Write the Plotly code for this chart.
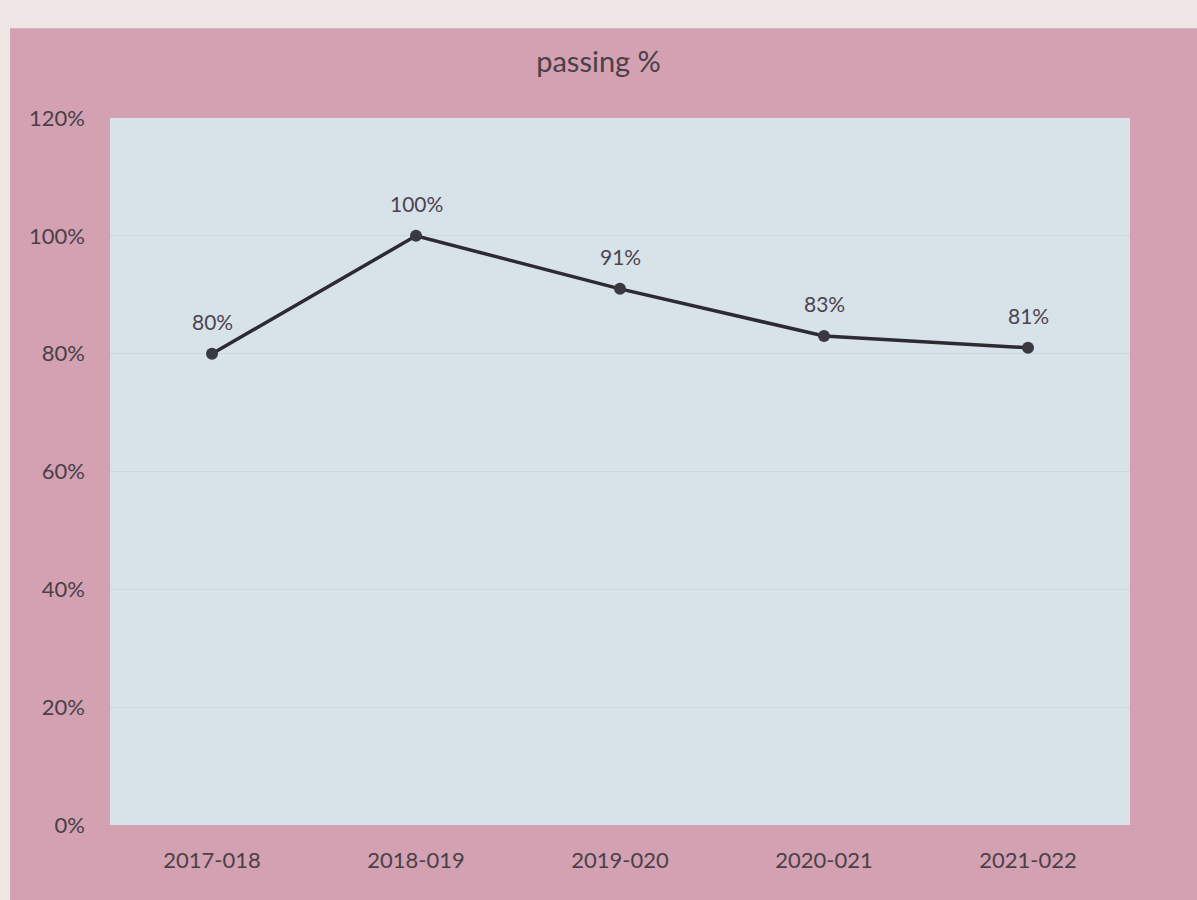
import plotly.graph_objects as go

years = ["2017-018", "2018-019", "2019-020", "2020-021", "2021-022"]
passing = [0.80, 1.00, 0.91, 0.83, 0.81]
labels = ["80%", "100%", "91%", "83%", "81%"]
y_ticks = [0, 0.2, 0.4, 0.6, 0.8, 1.0, 1.2]

FONT = "Lato, Open Sans, sans-serif"

fig = go.Figure()
fig.add_trace(go.Scatter(
    x=years, y=passing, mode="lines+markers",
    line=dict(color="#2c2b31", width=3.5),
    marker=dict(size=12, color="#3a3940"),
    cliponaxis=False,
))
for xv, yv, t in zip(years, passing, labels):
    fig.add_annotation(x=xv, y=yv, text=t, showarrow=False, yshift=32,
                       font=dict(family=FONT, size=21, color="#4a4550"))

fig.update_layout(
    width=1197, height=900,
    margin=dict(l=110, r=67, t=118, b=75),
    paper_bgcolor="#d3a1b2",
    plot_bgcolor="#d8e2e9",
    showlegend=False,
    title=dict(text="passing %", x=0.5, xanchor="center", y=0.931, yanchor="middle",
               font=dict(family=FONT, size=29, color="#4a4048")),
    font=dict(family=FONT, size=22, color="#4a4048"),
    shapes=[
        dict(type="rect", xref="paper", yref="paper", x0=-0.2, x1=1.2, y0=1.127, y1=1.3,
             fillcolor="#eee6e4", line=dict(width=0), layer="below"),
        dict(type="rect", xref="paper", yref="paper", x0=-0.2, x1=-0.098, y0=-0.2, y1=1.3,
             fillcolor="#eee6e4", line=dict(width=0), layer="below"),
    ],
)
fig.update_xaxes(type="category", range=[-0.5, 4.5], showgrid=False, zeroline=False,
                 showline=False, ticks="", ticklabelstandoff=20)
fig.update_yaxes(range=[0, 1.2], tickvals=y_ticks, tickformat=".0%",
                 showgrid=True, gridcolor="#cdd7de", gridwidth=1, zeroline=False,
                 showline=False, ticks="", ticklabelstandoff=24)

fig.write_html("out.html", config={"displayModeBar": False},
               post_script="document.body.style.margin='0';")
